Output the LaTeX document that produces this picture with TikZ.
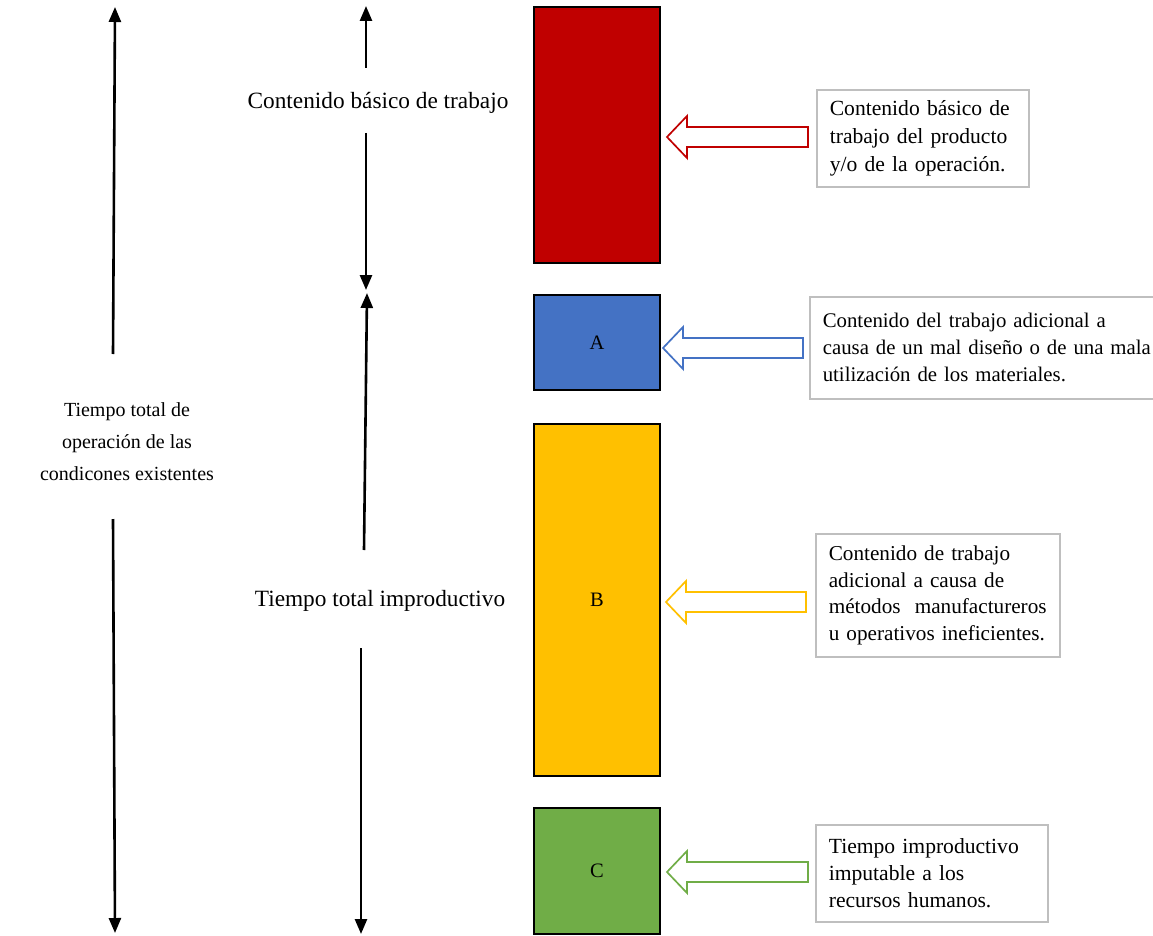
\documentclass[tikz,border=0pt]{standalone}
\usepackage{fontspec}
\setmainfont{Liberation Serif}
\usetikzlibrary{arrows.meta}

\definecolor{cred}{HTML}{C00000}
\definecolor{cblue}{HTML}{4472C4}
\definecolor{cyellow}{HTML}{FFC000}
\definecolor{cgreen}{HTML}{70AD47}
\definecolor{boxgray}{HTML}{BFBFBF}

% hollow block arrow pointing left: colour, tip x, centre y, tail x
\newcommand\hollowarrow[4]{%
  \draw[#1, line width=1.7pt, line join=miter, fill=white]
    (#2,#3) -- ++(20,-21) -- ++(0,11) -- (#4,#3-10) -- (#4,#3+10)
    -- (#2+20,#3+10) -- ++(0,11) -- cycle;}

\begin{document}
\begin{tikzpicture}[x=1pt,y=-1pt,
  every node/.style={font=\fontsize{20.5}{28}\selectfont, text=black},
  timeline/.style={line width=2.6pt, -{Triangle[width=12pt,length=15pt]}},
  block/.style={draw=black, line width=2pt, minimum width=126pt, inner sep=0pt},
  note/.style={draw=boxgray, line width=1.6pt, fill=white, align=left, inner xsep=13pt, inner ysep=0pt},
  axislabel/.style={font=\fontsize{23.3}{28}\selectfont},
  caption/.style={align=center, font=\fontsize{20}{32}\selectfont}
]
\useasboundingbox (0,0) rectangle (1153,936);

% coloured time blocks
\node[block, fill=cred,    minimum height=256pt] (basic) at (597,135) {};
\node[block, fill=cblue,   minimum height=95pt]  (A) at (597,342.5) {A};
\node[block, fill=cyellow, minimum height=352pt] (B) at (597,600) {B};
\node[block, fill=cgreen,  minimum height=126pt] (C) at (597,871) {C};

% labels on the time axes
\node[caption] (total) at (127,442)
  {Tiempo total de\\operación de las\\condicones existentes};
\node[axislabel] (basiclbl) at (378,103) {Contenido básico de trabajo};
\node[axislabel] (improlbl) at (380,601) {Tiempo total improductivo};

% end points of the time axes
\coordinate (t1a) at (113,354); \coordinate (t1b) at (115,7);
\coordinate (t2a) at (113,519); \coordinate (t2b) at (115,933);
\coordinate (b1a) at (366,68);  \coordinate (b1b) at (366,6);
\coordinate (b2a) at (366,133); \coordinate (b2b) at (366,290);
\coordinate (i1a) at (364,550); \coordinate (i1b) at (367,293);
\coordinate (i2a) at (361,648); \coordinate (i2b) at (361,934);

\draw[timeline] (t1a) -- (t1b);
\draw[timeline] (t2a) -- (t2b);
\draw[timeline] (b1a) -- (b1b);
\draw[timeline] (b2a) -- (b2b);
\draw[timeline] (i1a) -- (i1b);
\draw[timeline] (i2a) -- (i2b);

% explanatory notes
\node[note, anchor=north west, minimum width=212pt, minimum height=97pt, text width=186pt,
      font=\fontsize{21.6}{28}\selectfont] (n1) at (816,89)
  {Contenido básico de\\trabajo del producto\\y/o de la operación.};
\node[note, anchor=north west, minimum width=380pt, minimum height=102pt, text width=354pt,
      font=\fontsize{20.8}{27}\selectfont] (n2) at (809,296)
  {Contenido del trabajo adicional a\\causa de un mal diseño o de una mala\\utilización de los materiales.};
\node[note, anchor=north west, minimum width=244pt, minimum height=123pt, text width=218pt,
      font=\fontsize{21.2}{26.5}\selectfont] (n3) at (815,533)
  {Contenido de trabajo\\adicional a causa de\\métodos\ \ manufactureros\\u operativos ineficientes.};
\node[note, anchor=north west, minimum width=232pt, minimum height=97pt, text width=206pt,
      font=\fontsize{21.6}{27}\selectfont] (n4) at (815,824)
  {Tiempo improductivo\\imputable a los\\recursos humanos.};

% hollow arrows from notes to blocks
\hollowarrow{cred}{667}{137}{808}
\hollowarrow{cblue}{663}{348}{803}
\hollowarrow{cyellow}{666}{602}{806}
\hollowarrow{cgreen}{667}{872}{808}
\end{tikzpicture}
\end{document}
